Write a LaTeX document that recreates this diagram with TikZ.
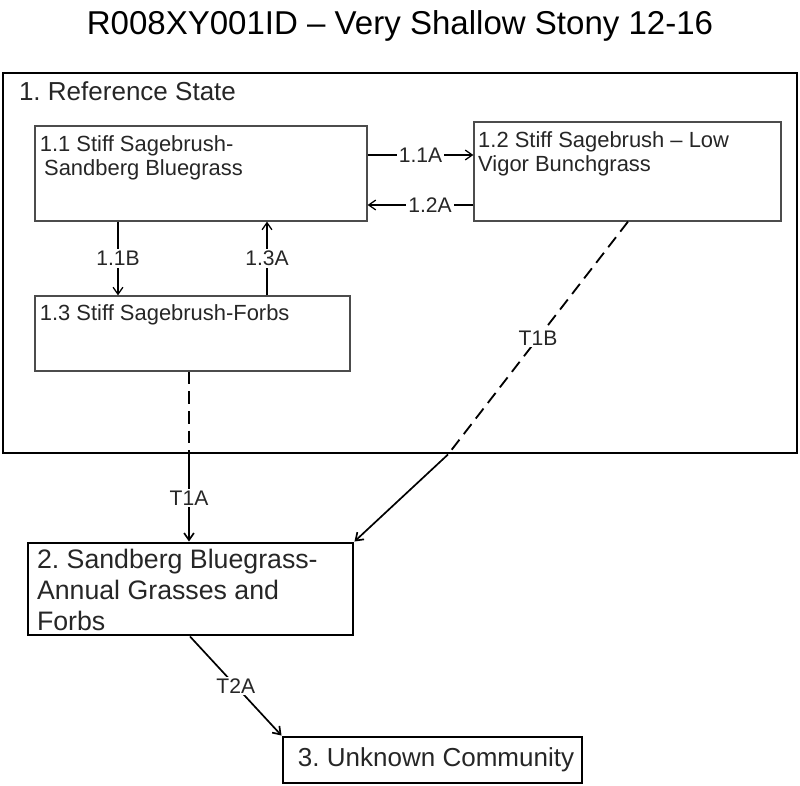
\documentclass[tikz,border=0pt]{standalone}
\usepackage{fontspec}
\setmainfont{Liberation Sans}
\frenchspacing
\usetikzlibrary{positioning,arrows.meta,fit}
\tikzset{>={Straight Barb[length=5pt,width=7pt]}}
\tikzset{
	statebox/.style={draw=black!70, line width=0.9pt, inner sep=0pt},
	bigbox/.style={draw, line width=2.1pt, inner sep=0pt},
	boxtext/.style={anchor=north west, align=left, inner sep=0pt, text=black!85},
	lbl/.style={fill=white, inner sep=1.5pt, text=black!85, font=\fontsize{15}{17}\selectfont},
}

\begin{document}
\begin{tikzpicture}[x=0.025cm, y=-0.025cm, line width=0.9pt]
		
		\useasboundingbox (0,0) rectangle (800,786);
		
		\node(T0) at (400,26) {\fontsize{23.5}{28}\selectfont R008XY001ID -- Very Shallow Stony 12-16};
		
		% reference state and its communities
		\node(R1) [bigbox, fit={(3,73) (797,453)}, label={[boxtext, xshift=12pt, yshift=-6.5pt, font=\fontsize{18.5}{22}\selectfont]north west:1. Reference State}] {};
		\node(S11) [statebox, fit={(35,126) (367,221)}, label={[boxtext, xshift=3.5pt, yshift=-6.5pt, font=\fontsize{15.6}{17.7}\selectfont]north west:1.1 Stiff Sagebrush-\\\hspace{3pt}Sandberg Bluegrass}] {};
		\node(S12) [statebox, fit={(474,122) (781,221)}, label={[boxtext, xshift=3pt, yshift=-6.5pt, font=\fontsize{15.6}{17.7}\selectfont]north west:1.2 Stiff Sagebrush -- Low\\Vigor Bunchgrass}] {};
		\node(S13) [statebox, fit={(35,296) (350,371)}, label={[boxtext, xshift=3.5pt, yshift=-6pt, font=\fontsize{15.6}{17.7}\selectfont]north west:1.3 Stiff Sagebrush-Forbs}] {};
		
		\node(S2) [bigbox, fit={(28,543) (353,635)}, label={[boxtext, xshift=7pt, yshift=-5pt, font=\fontsize{19}{22}\selectfont]north west:2. Sandberg Bluegrass-\\Annual Grasses and\\Forbs}] {};
		\node(S3) [bigbox, fit={(283,737) (582,783)}, label={[text=black!85, xshift=2.5pt, font=\fontsize{18.5}{22}\selectfont]center:3. Unknown Community}] {};
		
		\draw[->] (S11.east |- 0,155) -- node[lbl]{1.1A} (S12.west |- 0,155);
		\draw[->] (S12.west |- 0,205) -- node[lbl, pos=0.41]{1.2A} (S11.east |- 0,205);
		\draw[->] (S11.south -| 118,0) -- node[lbl]{1.1B} (S13.north -| 118,0);
		\draw[->] (S13.north -| 267,0) -- node[lbl]{1.3A} (S11.south -| 267,0);
		
		% transitions
		\coordinate(C1) at (R1.south -| 189,0);
		\coordinate(C2) at (R1.south -| 448,0);
		\draw[dashed, dash pattern=on 9pt off 5pt, line width=1.3pt] (S13.south -| 189,0) -- (C1);
		\draw[->, line width=1.2pt] (C1) -- node[lbl]{T1A} (S2.north -| 189,0);
		\draw[dashed, dash pattern=on 9pt off 5pt, line width=1.3pt] (S12.south -| 628,0) -- node[lbl]{T1B} (C2);
		\draw[->, line width=1.2pt] (C2) -- (S2.north east);
		\draw[->, line width=1.2pt] (S2.south -| 190,0) -- node[lbl]{T2A} (S3.north west);
		
	\end{tikzpicture}
\end{document}
